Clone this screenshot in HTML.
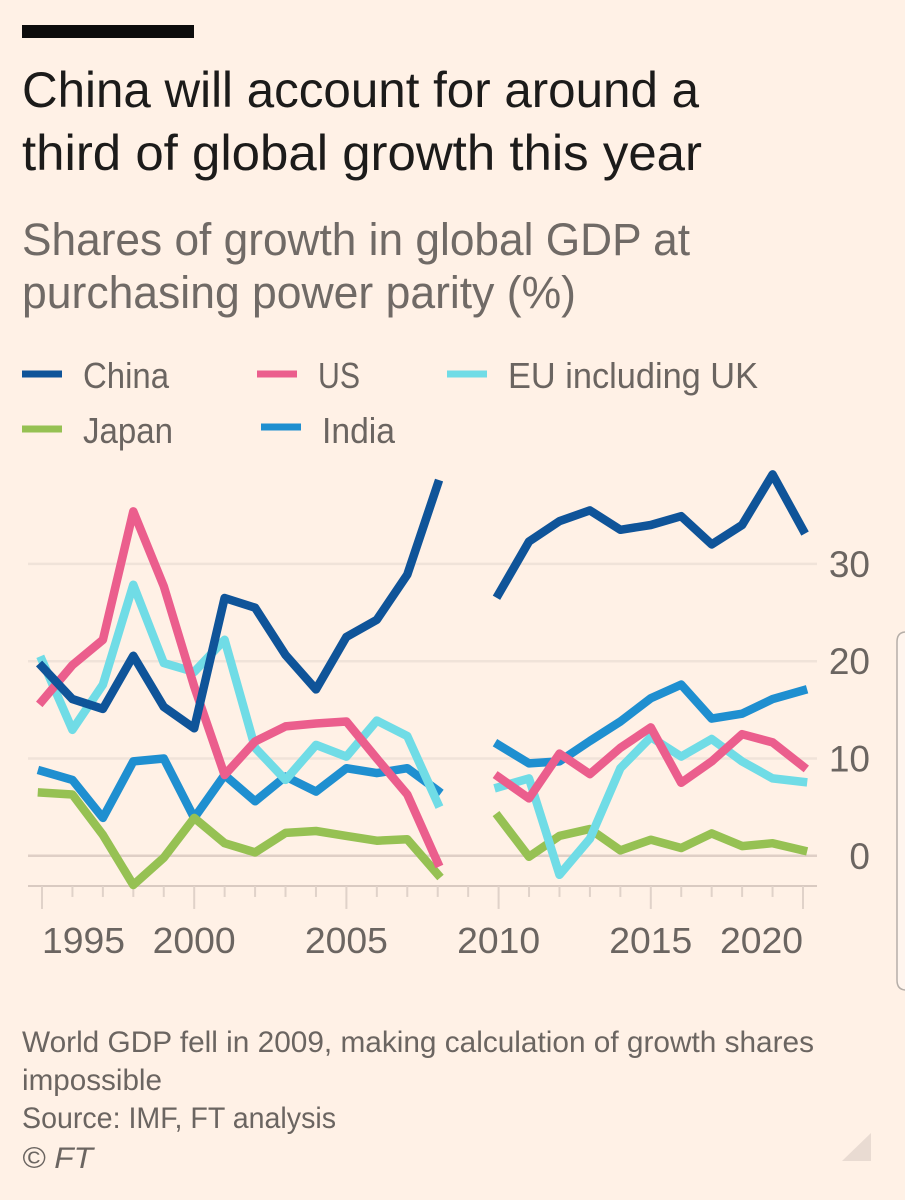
<!DOCTYPE html>
<html lang="en">
<head>
<meta charset="utf-8">
<title>China will account for around a third of global growth this year</title>
<style>
  html, body { margin: 0; padding: 0; background: #fff1e6; }
  body { width: 905px; height: 1200px; overflow: hidden; }
  svg { display: block; font-family: "Liberation Sans", sans-serif; }
</style>
</head>
<body>
<svg id="chart" xmlns="http://www.w3.org/2000/svg" width="905" height="1200" viewBox="0 0 905 1200">
  <rect x="0" y="0" width="905" height="1200" fill="#fff1e6"/>
  <rect x="22" y="25" width="172" height="13" fill="#0d0c0c"/>

  <text x="22" y="107" font-size="50" fill="#1c1b1a" textLength="677" lengthAdjust="spacingAndGlyphs">China will account for around a</text>
  <text x="22" y="170" font-size="50" fill="#1c1b1a" textLength="680" lengthAdjust="spacingAndGlyphs">third of global growth this year</text>
  <text x="22" y="255" font-size="45" fill="#706a66" textLength="668" lengthAdjust="spacingAndGlyphs">Shares of growth in global GDP at</text>
  <text x="22" y="308" font-size="45" fill="#706a66" textLength="554" lengthAdjust="spacingAndGlyphs">purchasing power parity (%)</text>

  <g font-size="36" fill="#6b6561">
    <line x1="22" x2="62" y1="374" y2="374" stroke="#0f5499" stroke-width="7"/>
    <text x="83" y="388" textLength="86" lengthAdjust="spacingAndGlyphs">China</text>
    <line x1="257" x2="297" y1="374" y2="374" stroke="#eb5e8d" stroke-width="7"/>
    <text x="318" y="388" textLength="42" lengthAdjust="spacingAndGlyphs">US</text>
    <line x1="447" x2="487" y1="374" y2="374" stroke="#70dce6" stroke-width="7"/>
    <text x="508" y="388" textLength="250" lengthAdjust="spacingAndGlyphs">EU including UK</text>
    <line x1="22" x2="62" y1="429" y2="429" stroke="#96c153" stroke-width="7"/>
    <text x="83" y="443" textLength="90" lengthAdjust="spacingAndGlyphs">Japan</text>
    <line x1="261" x2="301" y1="427" y2="427" stroke="#1f8fd0" stroke-width="7"/>
    <text x="322" y="443" textLength="73" lengthAdjust="spacingAndGlyphs">India</text>
  </g>

  <g id="grid"></g>
  <g id="xaxis"></g>
  <g id="yaxis"></g>
  <g id="series"></g>

  <g font-size="30" fill="#6b6561">
    <text x="22" y="1052" textLength="792" lengthAdjust="spacingAndGlyphs">World GDP fell in 2009, making calculation of growth shares</text>
    <text x="22" y="1090" textLength="140" lengthAdjust="spacingAndGlyphs">impossible</text>
    <text x="22" y="1128" textLength="314" lengthAdjust="spacingAndGlyphs">Source: IMF, FT analysis</text>
    <text x="22" y="1168" font-style="italic" textLength="71" lengthAdjust="spacingAndGlyphs">© FT</text>
  </g>

  <polygon points="842,1161 871,1161 871,1133" fill="#e9dbd2"/>
  <path d="M906,632 Q897,632 897,642 V980 Q897,990 906,990" fill="#fff5ee" stroke="#b5aea8" stroke-width="1.5"/>
</svg>
<script>
const years = [1995,1996,1997,1998,1999,2000,2001,2002,2003,2004,2005,2006,2007,2008,2009,2010,2011,2012,2013,2014,2015,2016,2017,2018,2019,2020];
const chinaValues = [19.45,16.1,15.1,20.55,15.3,13.1,26.5,25.5,20.65,17.1,22.5,24.25,28.9,38.2,null,26.9,32.3,34.4,35.5,33.5,34,34.9,32,34,39.2,33.5];
const usValues = [15.9,19.6,22.2,35.4,27.7,17.4,8.3,11.75,13.3,13.6,13.8,10,6.3,-0.7,null,8.1,5.9,10.5,8.4,11.1,13.2,7.5,9.7,12.5,11.65,9.2];
const euValues = [20.1,12.95,17.6,27.85,19.8,18.9,22.2,11.1,7.8,11.4,10.2,13.9,12.3,5.4,null,7.05,7.95,-1.95,1.75,9,12.2,10.2,12,9.7,7.95,7.6];
const japanValues = [6.5,6.3,2.15,-3,-0.2,3.9,1.3,0.35,2.35,2.55,2.05,1.55,1.7,-1.9,null,4,-0.1,2.05,2.75,0.55,1.65,0.8,2.3,1,1.3,0.55];
const indiaValues = [8.7,7.8,3.9,9.7,10,3.9,8.3,5.6,8.15,6.6,9,8.5,9,6.7,null,11.4,9.5,9.7,11.8,13.8,16.2,17.6,14.1,14.6,16.1,17];
const yTicks = [0,10,20,30];
const xTickLabels = ['1995','2000','2005','2010','2015','2020'];
const axisFloor = -3.1;

const NS = 'http://www.w3.org/2000/svg';
function xScale(year) { return 42 + (year - 1995) * 30.44; }
function yScale(value) { return 855.8 - value * 9.73; }
function make(tag, attrs, parent) {
  const el = document.createElementNS(NS, tag);
  for (const k in attrs) el.setAttribute(k, attrs[k]);
  parent.appendChild(el);
  return el;
}

const grid = document.getElementById('grid');
const yAxis = document.getElementById('yaxis');
yTicks.forEach(function (t) {
  const line = make('line', {x1: 28, x2: 817, y1: yScale(t), y2: yScale(t), stroke: t === 0 ? '#dfcfc6' : '#f0e3d9', 'stroke-width': 2.5}, grid);
  
  
  const label = make('text', {x: 870, y: yScale(t) + 13, 'text-anchor': 'end', 'font-size': 37, fill: '#6b6561'}, yAxis);
  label.textContent = String(t);
  
  
});

const xAxis = document.getElementById('xaxis');
const baseline = make('line', {x1: 28, x2: 817, y1: yScale(axisFloor), y2: yScale(axisFloor), stroke: '#d9cac1', 'stroke-width': 2}, xAxis);


years.forEach(function (yr) {
  const major = yr % 5 === 0;
  const y0 = yScale(axisFloor);
  const tick = make('line', {x1: xScale(yr), x2: xScale(yr), y1: y0, y2: y0 + (major ? 23 : 11), stroke: '#e0d2c9', 'stroke-width': 2}, xAxis);
  
  
});
xTickLabels.forEach(function (lab) {
  const yr = Number(lab);
  const anchor = lab === '1995' ? 'start' : (lab === '2020' ? 'end' : 'middle');
  const text = make('text', {x: xScale(yr), y: 953, 'text-anchor': anchor, 'font-size': 36, fill: '#6b6561', textLength: 83, lengthAdjust: 'spacingAndGlyphs'}, xAxis);
  text.textContent = lab;
  
  
});

const seriesGroup = document.getElementById('series');
function drawSeries(name, values, colour) {
  let d = '';
  let pen = false;
  values.forEach(function (v, i) {
    if (v === null) { pen = false; return; }
    d += (pen ? 'L' : 'M') + xScale(years[i]).toFixed(1) + ',' + yScale(v).toFixed(1);
    pen = true;
  });
  const path = make('path', {d: d, fill: 'none', stroke: colour, 'stroke-width': 8.5, 'stroke-linejoin': 'round', 'stroke-linecap': 'square'}, seriesGroup);
  
  
}
drawSeries('india', indiaValues, '#1f8fd0');
drawSeries('japan', japanValues, '#96c153');
drawSeries('eu', euValues, '#70dce6');
drawSeries('us', usValues, '#eb5e8d');
drawSeries('china', chinaValues, '#0f5499');
</script>
</body>
</html>
